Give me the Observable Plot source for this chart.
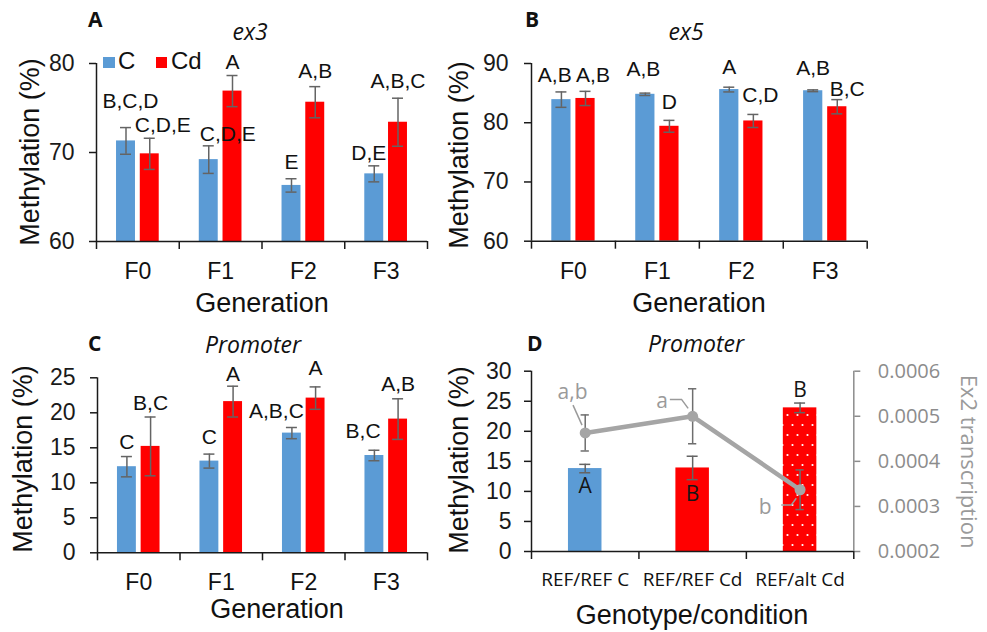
<!DOCTYPE html>
<html>
<head>
<meta charset="utf-8">
<script src="https://cdn.jsdelivr.net/npm/d3@7"></script>
<script src="https://cdn.jsdelivr.net/npm/@observablehq/plot@0.6"></script>
<style>
  body { margin: 0; background: #fff; }
  #fig { position: relative; width: 987px; height: 632px; overflow: hidden; background: #fff; }
  #fig > div.panel { position: absolute; }
  #fig > svg.overlay { position: absolute; left: 0; top: 0; }
</style>
</head>
<body>
<div id="fig"></div>
<script>
// ---------------- DATA ----------------
const generations = ["F0", "F1", "F2", "F3"];
const seriesNames = ["C", "Cd"];

// Panel A: ex3
const ex3C = [71.3, 69.2, 66.3, 67.6];
const ex3CErr = [1.5, 1.55, 0.75, 0.9];
const ex3Cd = [69.85, 76.9, 75.65, 73.4];
const ex3CdErr = [1.75, 1.75, 1.75, 2.7];
const ex3CLetters = ["B,C,D", "C,D,E", "E", "D,E"];
const ex3CdLetters = ["C,D,E", "A", "A,B", "A,B,C"];

// Panel B: ex5
const ex5C = [83.9, 84.8, 85.6, 85.4];
const ex5CErr = [1.3, 0.2, 0.4, 0.15];
const ex5Cd = [84.1, 79.4, 80.3, 82.7];
const ex5CdErr = [1.2, 1.0, 1.1, 1.2];
const ex5CLetters = ["A,B", "A,B", "A", "A,B"];
const ex5CdLetters = ["A,B", "D", "C,D", "B,C"];

// Panel C: Promoter
const promC = [12.3, 13.1, 17.1, 13.9];
const promCErr = [1.45, 1.0, 0.8, 0.75];
const promCd = [15.2, 21.6, 22.1, 19.1];
const promCdErr = [4.2, 2.2, 1.6, 2.9];
const promCLetters = ["C", "C", "A,B,C", "B,C"];
const promCdLetters = ["B,C", "A", "A", "A,B"];

// Panel D: Promoter by genotype/condition, with Ex2 transcription
const genotypes = ["REF/REF C", "REF/REF Cd", "REF/alt Cd"];
const genoMeth = [13.8, 13.9, 23.9];
const genoMethErr = [0.7, 1.95, 0.8];
const genoMethLetters = ["A", "B", "B"];
const ex2Transcription = [0.000463, 0.0005, 0.000337];
const ex2TranscriptionErr = [0.00004, 0.000061, 0.000044];
const ex2Letters = ["a,b", "a", "b"];

// Tick values
const ticksA = [60, 70, 80];
const ticksB = [60, 70, 80, 90];
const ticksC = [0, 5, 10, 15, 20, 25];
const ticksD = [0, 5, 10, 15, 20, 25, 30];
const ticksDRight = [0.0002, 0.0003, 0.0004, 0.0005, 0.0006];

// ---------------- STYLE / LAYOUT ----------------
const colors = ["#5B9BD5", "#FF0000"];
const errColor = "#646464";
const axisColor = "#1a1a1a";
const grayLine = "#A5A5A5";
const grayAxis = "#8c8c8c";
const grayText = "#9a9a9a";
const LS = "'Liberation Sans', Arial, sans-serif";
const OS = "'Open Sans', sans-serif";
const barSpan = [[0.242, 0.471], [0.529, 0.758]]; // fraction of a generation slot
const capPx = 11;

const fig = document.getElementById("fig");

function place(node, left, top) {
  const wrap = document.createElement("div");
  wrap.className = "panel";
  wrap.style.left = left + "px";
  wrap.style.top = top + "px";
  wrap.appendChild(node);
  fig.appendChild(wrap);
  return node;
}

function groupedPanel(cfg) {
  const n = generations.length;
  const unit = (cfg.width - cfg.ml - cfg.mr) / n;
  const cap = capPx / unit / 2;
  const rows = [];
  for (let i = 0; i < n; i++) {
    for (let s = 0; s < 2; s++) {
      const [a, b] = barSpan[s];
      rows.push({
        i, s, x1: i + a, x2: i + b, xc: i + (a + b) / 2,
        v: cfg.vals[s][i], e: cfg.errs[s][i], lab: cfg.labs[s][i], nd: cfg.nudges[s][i]
      });
    }
  }
  const [y0, y1] = cfg.yDomain;
  return Plot.plot({
    width: cfg.width, height: cfg.height,
    marginLeft: cfg.ml, marginRight: cfg.mr, marginTop: cfg.mt, marginBottom: cfg.mb,
    x: { domain: [0, n] },
    y: { domain: cfg.yDomain },
    style: { fontFamily: LS, background: "transparent", overflow: "visible", color: "#111" },
    marks: [
      ...[0, 1].map(s => Plot.rectY(rows.filter(d => d.s === s), {
        x1: "x1", x2: "x2", y1: y0, y2: "v", fill: colors[s]
      })),
      Plot.ruleX(rows, { x: "xc", y1: d => d.v - d.e, y2: d => d.v + d.e, stroke: errColor, strokeWidth: 1.5 }),
      Plot.ruleY(rows, { y: d => d.v + d.e, x1: d => d.xc - cap, x2: d => d.xc + cap, stroke: errColor, strokeWidth: 1.5 }),
      Plot.ruleY(rows, { y: d => d.v - d.e, x1: d => d.xc - cap, x2: d => d.xc + cap, stroke: errColor, strokeWidth: 1.5 }),
      ...rows.map(r => Plot.text([r], {
        x: "xc", y: d => d.v + d.e, text: "lab", dx: r.nd[0], dy: -r.nd[1],
        lineAnchor: "bottom", fontSize: 21, fill: "#111", fontFamily: LS
      })),
      Plot.ruleY([y0], { stroke: axisColor, strokeWidth: 1.5 }),
      Plot.ruleX([0], { y1: y0, y2: y1, stroke: axisColor, strokeWidth: 1.5 }),
      Plot.axisY({ ticks: cfg.yTicks, tickSize: 7, tickPadding: cfg.tp, fontSize: 23, label: null, strokeWidth: 1.5, color: axisColor, fontFamily: LS }),
      Plot.axisX({ ticks: d3.range(n + 1), tickSize: 8, tickFormat: () => "", label: null, strokeWidth: 1.5, color: axisColor }),
      Plot.axisX({ ticks: generations.map((_, i) => i + 0.5), tickSize: 0, tickPadding: 21,
        tickFormat: t => generations[Math.floor(t)], fontSize: 23, label: null, color: "#111", fontFamily: LS })
    ]
  });
}

// Panel A
place(groupedPanel({
  width: 480, height: 300, ml: 96, mr: 53, mt: 63, mb: 59,
  yDomain: [60, 80], yTicks: ticksA, tp: 15,
  vals: [ex3C, ex3Cd], errs: [ex3CErr, ex3CdErr], labs: [ex3CLetters, ex3CdLetters],
  nudges: [[[4.5, 20], [19, 5], [0, 10], [-5.5, 6]], [[13, 6], [0, 7], [0, 9], [0, 10]]]
}), 0, 0);

// Panel B
place(groupedPanel({
  width: 507, height: 300, ml: 51, mr: 120.3, mt: 63, mb: 59.3,
  yDomain: [60, 90], yTicks: ticksB, tp: 16,
  vals: [ex5C, ex5Cd], errs: [ex5CErr, ex5CdErr], labs: [ex5CLetters, ex5CdLetters],
  nudges: [[[-6.7, 10], [-2, 17.5], [0, 13], [0, 15]], [[7.5, 9.3], [0, 11], [7, 12], [10, 4]]]
}), 480, 0);

// Panel C
place(groupedPanel({
  width: 480, height: 332, ml: 97, mr: 53, mt: 77.3, mb: 79.7,
  yDomain: [0, 25], yTicks: ticksC, tp: 15,
  vals: [promC, promCd], errs: [promCErr, promCdErr], labs: [promCLetters, promCdLetters],
  nudges: [[[0, 8], [0, 10], [-15.5, 10], [-11.3, 12]], [[0, 7], [0, 5], [0, 12], [0, 8]]]
}), 0, 300);

// Panel D
(function () {
  const n = genotypes.length;
  const width = 507, height = 332, ml = 51, mr = 133.7, mt = 70.7, mb = 81;
  const unit = (width - ml - mr) / n;
  const cap = capPx / unit / 2;
  const yMax = 30;
  const tMin = ticksDRight[0], tMax = ticksDRight[ticksDRight.length - 1];
  const toLeft = t => (t - tMin) / (tMax - tMin) * yMax;
  const barFills = [colors[0], colors[1], "url(#dotsD)"];
  const halfBar = 0.156;
  const bars = genotypes.map((g, i) => ({
    i, xc: i + 0.5, x1: i + 0.5 - halfBar, x2: i + 0.5 + halfBar,
    v: genoMeth[i], e: genoMethErr[i], lab: genoMethLetters[i]
  }));
  const pts = genotypes.map((g, i) => ({
    i, xc: i + 0.5, t: ex2Transcription[i], te: ex2TranscriptionErr[i], lab: ex2Letters[i]
  }));
  const barLabDy = [24.7, 32.7, -11.3];
  const ptLabOff = [[-12.7, -34], [-30.6, -8.4], [-35, 24]];
  const leaders = [
    [[-11.7, -27.3], [-2.7, -7.3]],
    [[-22.3, -16.4], [-10.6, -16.4], [-4, -7.4]],
    [[-18.3, 15.7], [-8.3, 15.7], [-3.3, 9]]
  ];

  const plot = Plot.plot({
    width, height, marginLeft: ml, marginRight: mr, marginTop: mt, marginBottom: mb,
    x: { domain: [0, n] },
    y: { domain: [0, yMax] },
    style: { fontFamily: LS, background: "transparent", overflow: "visible", color: "#111" },
    marks: [
      ...bars.map(b => Plot.rectY([b], { x1: "x1", x2: "x2", y1: 0, y2: "v", fill: barFills[b.i] })),
      Plot.ruleX(bars, { x: "xc", y1: d => d.v - d.e, y2: d => d.v + d.e, stroke: errColor, strokeWidth: 1.5 }),
      Plot.ruleY(bars, { y: d => d.v + d.e, x1: d => d.xc - cap, x2: d => d.xc + cap, stroke: errColor, strokeWidth: 1.5 }),
      Plot.ruleY(bars, { y: d => d.v - d.e, x1: d => d.xc - cap, x2: d => d.xc + cap, stroke: errColor, strokeWidth: 1.5 }),
      Plot.ruleX(pts, { x: "xc", y1: d => toLeft(d.t - d.te), y2: d => toLeft(d.t + d.te), stroke: "#6e6e6e", strokeWidth: 1.5 }),
      Plot.ruleY(pts, { y: d => toLeft(d.t + d.te), x1: d => d.xc - cap * 0.75, x2: d => d.xc + cap * 0.75, stroke: "#6e6e6e", strokeWidth: 1.5 }),
      Plot.ruleY(pts, { y: d => toLeft(d.t - d.te), x1: d => d.xc - cap * 0.75, x2: d => d.xc + cap * 0.75, stroke: "#6e6e6e", strokeWidth: 1.5 }),
      Plot.line(pts, { x: "xc", y: d => toLeft(d.t), stroke: grayLine, strokeWidth: 4.5 }),
      Plot.dot(pts, { x: "xc", y: d => toLeft(d.t), r: 5.5, fill: grayLine, stroke: "none" }),
      ...bars.map(b => Plot.text([b], { x: "xc", y: "v", text: "lab", dy: barLabDy[b.i], lineAnchor: "bottom", fontSize: 21, fontFamily: OS, fill: "#151515" })),
      ...pts.map(p => Plot.text([p], { x: "xc", y: d => toLeft(d.t), text: "lab", dx: ptLabOff[p.i][0], dy: ptLabOff[p.i][1], lineAnchor: "bottom", fontSize: 21, fontFamily: OS, fill: grayText })),
      Plot.ruleY([0], { stroke: axisColor, strokeWidth: 1.5 }),
      Plot.ruleX([0], { y1: 0, y2: yMax, stroke: axisColor, strokeWidth: 1.5 }),
      Plot.ruleX([n], { y1: 0, y2: yMax, stroke: grayAxis, strokeWidth: 1.5 }),
      Plot.axisY({ ticks: ticksD, tickSize: 7, tickPadding: 13, fontSize: 23, label: null, strokeWidth: 1.5, color: axisColor, fontFamily: LS }),
      Plot.axisY({ anchor: "right", ticks: ticksDRight.map(toLeft), tickSize: 6, tickPadding: 18,
        tickFormat: v => d3.format(".4f")(tMin + v / yMax * (tMax - tMin)),
        fontSize: 20, label: null, strokeWidth: 1.5, color: grayAxis, fontFamily: OS }),
      Plot.axisX({ ticks: d3.range(n + 1), tickSize: 8, tickFormat: () => "", label: null, strokeWidth: 1.5, color: axisColor }),
      Plot.axisX({ ticks: genotypes.map((_, i) => i + 0.5), tickSize: 0, tickPadding: 21,
        tickFormat: t => genotypes[Math.floor(t)], fontSize: 19, label: null, color: "#111", fontFamily: OS })
    ]
  });

  // dotted pattern for the REF/alt Cd bar
  const svg = d3.select(plot);
  const pat = svg.insert("defs", ":first-child").append("pattern")
    .attr("id", "dotsD").attr("patternUnits", "userSpaceOnUse")
    .attr("width", 10).attr("height", 20);
  pat.append("rect").attr("width", 10).attr("height", 20).attr("fill", colors[1]);
  pat.append("circle").attr("cx", 2.5).attr("cy", 5).attr("r", 1.1).attr("fill", "#fff");
  pat.append("circle").attr("cx", 7.5).attr("cy", 15).attr("r", 1.1).attr("fill", "#fff");

  // leader lines from transcription letters to points, via the plot's scales
  const sx = plot.scale("x"), sy = plot.scale("y");
  const g = svg.append("g").attr("fill", "none").attr("stroke", grayText).attr("stroke-width", 1.5);
  pts.forEach((p, k) => {
    const px = sx.apply(p.xc), py = sy.apply(toLeft(p.t));
    g.append("path").attr("d", d3.line()(leaders[k].map(([dx, dy]) => [px + dx, py + dy])));
  });

  place(plot, 480, 300);
})();

// ---------------- TITLES, AXIS TITLES, LEGEND ----------------
const overlay = d3.select(fig).append("svg").attr("class", "overlay")
  .attr("width", 987).attr("height", 632);

const texts = [
  { t: "A", x: 88, y: 27, f: OS, s: 21, w: "bold" },
  { t: "B", x: 525, y: 27, f: OS, s: 21, w: "bold" },
  { t: "C", x: 88, y: 351, f: OS, s: 21, w: "bold" },
  { t: "D", x: 527, y: 351, f: OS, s: 21, w: "bold" },
  { t: "ex3", x: 250, y: 39.5, f: OS, s: 23, it: true, a: "middle" },
  { t: "ex5", x: 686, y: 39.5, f: OS, s: 23, it: true, a: "middle" },
  { t: "Promoter", x: 253, y: 352.5, f: OS, s: 23, it: true, a: "middle" },
  { t: "Promoter", x: 696, y: 352, f: OS, s: 23, it: true, a: "middle" },
  { t: "Generation", x: 262, y: 312, f: LS, s: 27, a: "middle" },
  { t: "Generation", x: 699, y: 312, f: LS, s: 27, a: "middle" },
  { t: "Generation", x: 277, y: 617.5, f: LS, s: 27, a: "middle" },
  { t: "Genotype/condition", x: 692, y: 624, f: LS, s: 27, a: "middle" },
  { t: "Methylation (%)", x: 39, y: 152, f: LS, s: 27, a: "middle", r: -90 },
  { t: "Methylation (%)", x: 467.5, y: 155, f: LS, s: 27, a: "middle", r: -90 },
  { t: "Methylation (%)", x: 31.5, y: 459, f: LS, s: 27, a: "middle", r: -90 },
  { t: "Methylation (%)", x: 468, y: 460, f: LS, s: 27, a: "middle", r: -90 },
  { t: "Ex2 transcription", x: 961, y: 461.5, f: OS, s: 22, a: "middle", r: 90, c: grayText },
  { t: seriesNames[0], x: 118, y: 69.3, f: LS, s: 24 },
  { t: seriesNames[1], x: 171, y: 69.3, f: LS, s: 24 }
];
texts.forEach(d => {
  overlay.append("text")
    .attr("transform", `translate(${d.x},${d.y})` + (d.r ? ` rotate(${d.r})` : ""))
    .attr("text-anchor", d.a || "start")
    .attr("font-family", d.f).attr("font-size", d.s)
    .attr("font-weight", d.w || "normal")
    .attr("font-style", d.it ? "italic" : "normal")
    .attr("fill", d.c || "#111")
    .text(d.t);
});
// legend swatches
overlay.append("rect").attr("x", 103).attr("y", 57).attr("width", 12).attr("height", 11).attr("fill", colors[0]);
overlay.append("rect").attr("x", 156).attr("y", 57).attr("width", 11).attr("height", 11).attr("fill", colors[1]);
</script>
</body>
</html>
